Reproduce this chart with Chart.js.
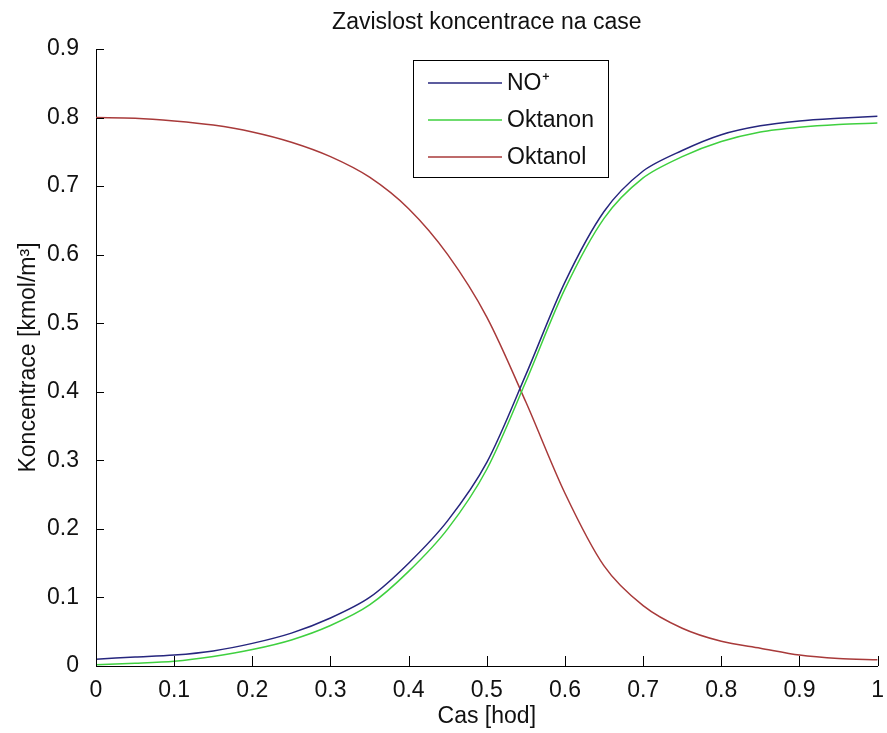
<!DOCTYPE html>
<html>
<head>
<meta charset="utf-8">
<script src="https://cdn.jsdelivr.net/npm/chart.js@4"></script>
<style>
  html, body { margin: 0; padding: 0; background: #fff; }
  #wrap { width: 887px; height: 733px; }
</style>
</head>
<body>
<div id="wrap"><canvas id="chart" width="887" height="733"></canvas></div>
<script>
// cas [hod]
const casHod = [0, 0.05, 0.1, 0.15, 0.2, 0.25, 0.3, 0.35, 0.4, 0.45, 0.5,
                0.55, 0.6, 0.65, 0.7, 0.75, 0.8, 0.85, 0.9, 0.95, 1];

// koncentrace [kmol/m3]
const noPlus   = [0.010, 0.013, 0.016, 0.022, 0.033, 0.048, 0.070, 0.100, 0.150, 0.212, 0.297,
                  0.425, 0.560, 0.663, 0.722, 0.752, 0.775, 0.788, 0.795, 0.799, 0.802];
const oktanon  = [0.002, 0.004, 0.007, 0.014, 0.024, 0.038, 0.059, 0.089, 0.138, 0.200, 0.287,
                  0.415, 0.550, 0.653, 0.712, 0.743, 0.765, 0.779, 0.786, 0.790, 0.792];
const oktanol  = [0.800, 0.799, 0.795, 0.789, 0.779, 0.764, 0.743, 0.713, 0.667, 0.600, 0.509,
                  0.385, 0.252, 0.146, 0.088, 0.055, 0.036, 0.026, 0.016, 0.011, 0.009];

const xTicks = [0, 0.1, 0.2, 0.3, 0.4, 0.5, 0.6, 0.7, 0.8, 0.9, 1];
const yTicks = [0, 0.1, 0.2, 0.3, 0.4, 0.5, 0.6, 0.7, 0.8, 0.9];

const FONT = "'Liberation Sans', Arial, sans-serif";

function body(values) {
  return casHod.map((t, i) => ({ x: t, y: values[i] }));
}

// ticky smerem dovnitr jako v matlabu
const inwardTicks = {
  id: 'inwardTicks',
  afterDraw(chart) {
    const ctx = chart.ctx;
    const xs = chart.scales.x, ys = chart.scales.y;
    const a = chart.chartArea;
    ctx.save();
    ctx.strokeStyle = '#000';
    ctx.lineWidth = 1;
    ctx.beginPath();
    xTicks.forEach(v => {
      const px = Math.round(xs.getPixelForValue(v)) + 0.5;
      ctx.moveTo(px, a.bottom);
      ctx.lineTo(px, a.bottom - 10);
    });
    yTicks.forEach(v => {
      const py = Math.round(ys.getPixelForValue(v)) + 0.5;
      ctx.moveTo(a.left, py);
      ctx.lineTo(a.left + 8, py);
    });
    ctx.stroke();
    ctx.restore();
  }
};

// legenda uvnitr grafu
const boxLegend = {
  id: 'boxLegend',
  afterDatasetsDraw(chart) {
    const ctx = chart.ctx;
    const bx = 413, by = 60, bw = 195, bh = 117;
    ctx.save();
    ctx.fillStyle = '#fff';
    ctx.fillRect(bx, by, bw, bh);
    ctx.strokeStyle = '#000';
    ctx.lineWidth = 1;
    ctx.strokeRect(bx + 0.5, by + 0.5, bw, bh);
    ctx.font = '23px ' + FONT;
    ctx.textBaseline = 'middle';
    ctx.textAlign = 'left';
    chart.data.datasets.forEach((ds, i) => {
      const y = 83 + i * 37;
      ctx.strokeStyle = ds.borderColor;
      ctx.lineWidth = 1.5;
      ctx.beginPath();
      ctx.moveTo(428, y);
      ctx.lineTo(502, y);
      ctx.stroke();
      ctx.fillStyle = '#111';
      ctx.fillText(ds.label, 507, y + 1);
    });
    ctx.restore();
  }
};

new Chart(document.getElementById('chart'), {
  type: 'line',
  data: {
    datasets: [
      { label: 'NO\u207A', data: body(noPlus), borderColor: '#26267e' },
      { label: 'Oktanon', data: body(oktanon), borderColor: '#3fd03f' },
      { label: 'Oktanol', data: body(oktanol), borderColor: '#a83a3a' }
    ]
  },
  options: {
    responsive: false,
    animation: false,
    devicePixelRatio: 1,
    layout: { padding: { top: 0, right: 7, bottom: 0, left: 0 } },
    elements: {
      point: { radius: 0 },
      line: { borderWidth: 1.5, tension: 0.3, fill: false }
    },
    plugins: {
      legend: { display: false },
      tooltip: { enabled: false },
      title: {
        display: true,
        fullSize: false,
        text: 'Zavislost koncentrace na case',
        color: '#111',
        font: { family: FONT, size: 23, weight: 'normal', lineHeight: 1.2 },
        padding: { top: 9, bottom: 12.4 }
      }
    },
    scales: {
      x: {
        type: 'linear',
        min: 0,
        max: 1,
        afterBuildTicks: s => { s.ticks = xTicks.map(v => ({ value: v })); },
        afterFit: s => { s.height = 67; },
        grid: { display: false },
        border: { display: true, color: '#000', width: 1 },
        ticks: {
          color: '#111',
          padding: 3,
          maxRotation: 0,
          font: { family: FONT, size: 23 },
          callback: v => String(v)
        },
        title: {
          display: true,
          text: 'Cas [hod]',
          color: '#111',
          font: { family: FONT, size: 23, lineHeight: 1.2 },
          padding: { top: 0, bottom: 3 }
        }
      },
      y: {
        type: 'linear',
        min: 0,
        max: 0.9,
        afterBuildTicks: s => { s.ticks = yTicks.map(v => ({ value: v })); },
        afterFit: s => { s.width = 96; },
        grid: { display: false },
        border: { display: true, color: '#000', width: 1 },
        ticks: {
          color: '#111',
          padding: 9,
          font: { family: FONT, size: 23 },
          callback: v => String(v)
        },
        title: {
          display: true,
          text: 'Koncentrace [kmol/m\u00B3]',
          color: '#111',
          font: { family: FONT, size: 23, lineHeight: 1.2 },
          padding: { top: 15, bottom: 0 }
        }
      }
    }
  },
  plugins: [inwardTicks, boxLegend]
});
</script>
</body>
</html>
